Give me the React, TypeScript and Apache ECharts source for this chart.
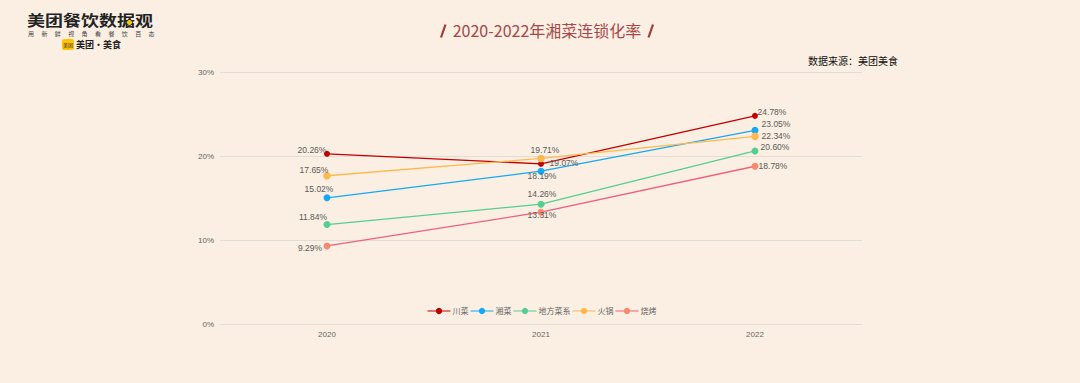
import React, { useEffect, useRef } from "react";
import * as echarts from "echarts";

const years = ["2020", "2021", "2022"];
const names = ["川菜", "湘菜", "地方菜系", "火锅", "烧烤"];
const sichuan = [20.26, 19.07, 24.78];
const hunan = [15.02, 18.19, 23.05];
const local = [11.84, 14.26, 20.6];
const hotpot = [17.65, 19.71, 22.34];
const bbq = [9.29, 13.31, 18.78];
const seriesValues = [sichuan, hunan, local, hotpot, bbq];

const lineColors = ["#c00000", "#14a9f5", "#55cf91", "#ffb84d", "#f0607a"];
const markerColors = ["#c00000", "#14a9f5", "#55cf91", "#ffb84d", "#f58a70"];
const markerSizes = [6, 7, 7, 7.5, 7];
const labelOffsets = [
  [[-15, 8], [23, 11], [17, 8]],
  [[-8, 4], [1, 18], [21, 6]],
  [[-14, 5], [1, 3], [20, 9]],
  [[-13, 7], [4, 5], [21, 13]],
  [[-17, 15], [1, 16], [18, 13]],
];

const FONT_CJK = '"Noto Sans CJK SC", "Noto Sans", sans-serif';
const FONT_LABEL = '"Liberation Sans", "Noto Sans CJK SC", sans-serif';
const BG = "#faefe2";
const slogan = "用新鲜视角看餐饮百态";

export default function App() {
  const ref = useRef<HTMLDivElement>(null);
  useEffect(() => {
    document.body.style.margin = "0";
    document.body.style.background = BG;
    const chart = echarts.init(ref.current!, undefined, { renderer: "svg" });
    chart.setOption({
      animation: false,
      backgroundColor: BG,
      grid: { left: 220, right: 218, top: 72, bottom: 59 },
      legend: {
        left: 422,
        top: 302,
        itemGap: 1.5,
        itemWidth: 23,
        itemHeight: 8,
        data: names,
        lineStyle: { width: 1 },
        textStyle: {
          fontSize: 8,
          color: "#666",
          fontFamily: FONT_CJK,
          padding: [0, 0, 0, -3],
        },
      },
      xAxis: {
        type: "category",
        data: years,
        axisLine: { lineStyle: { color: "#e0dcd6" } },
        axisTick: { show: false },
        axisLabel: { fontSize: 8, color: "#666", margin: 6, fontFamily: FONT_LABEL },
      },
      yAxis: {
        type: "value",
        min: 0,
        max: 30,
        interval: 10,
        axisLine: { show: false },
        axisTick: { show: false },
        axisLabel: { fontSize: 8, color: "#666", margin: 6, formatter: "{value}%", fontFamily: FONT_LABEL },
        splitLine: { lineStyle: { color: "#e0dcd6", width: 1 } },
      },
      series: names.map((name, i) => ({
        name,
        type: "line",
        symbol: "circle",
        symbolSize: markerSizes[i],
        itemStyle: { color: markerColors[i] },
        lineStyle: { color: lineColors[i], width: 1.3 },
        data: seriesValues[i].map((value, j) => ({
          value,
          label: {
            show: true,
            position: "top",
            offset: labelOffsets[i][j],
            formatter: value.toFixed(2) + "%",
            fontSize: 8.5,
            color: "#5a5a5a",
            fontFamily: FONT_LABEL,
          },
        })),
      })),
      graphic: [
        { type: "text", x: 547, y: 30, style: { text: "2020-2022年湘菜连锁化率", fontSize: 16, fontFamily: FONT_CJK, fill: "#a5484a", align: "center", verticalAlign: "middle" } },
        { type: "line", shape: { x1: 441, y1: 37.5, x2: 445.5, y2: 24.5 }, style: { stroke: "#a23b3b", lineWidth: 2.2 } },
        { type: "line", shape: { x1: 648.5, y1: 37.5, x2: 653, y2: 24.5 }, style: { stroke: "#a23b3b", lineWidth: 2.2 } },
        { type: "text", x: 898, y: 60, style: { text: "数据来源：美团美食", fontSize: 10, fontFamily: FONT_CJK, fill: "#111", align: "right", verticalAlign: "middle" } },
        { type: "text", x: 27, y: 19.5, scaleY: 0.8, style: { text: "美团餐饮数据观", fontSize: 18, lineHeight: 18, fontWeight: "bold", fontFamily: FONT_CJK, fill: "#222", align: "left", verticalAlign: "middle" } },
        { type: "circle", shape: { cx: 129.5, cy: 22.5, r: 3 }, style: { fill: "#f5c518", stroke: "#222", lineWidth: 1 } },
        ...slogan.split("").map((ch, i) => ({
          type: "text",
          x: 31 + i * 13.4,
          y: 33.5,
          style: { text: ch, fontSize: 6, lineHeight: 6, fontFamily: FONT_CJK, fill: "#444", align: "center", verticalAlign: "middle" },
        })),
        { type: "rect", shape: { x: 62, y: 39, width: 12, height: 11, r: 2 }, style: { fill: "#ffc300" } },
        { type: "text", x: 68, y: 44.5, style: { text: "美团", fontSize: 5, fontFamily: FONT_CJK, fill: "#222", align: "center", verticalAlign: "middle" } },
        { type: "text", x: 76, y: 44.5, style: { text: "美团·美食", fontSize: 9, fontWeight: "bold", fontFamily: FONT_CJK, fill: "#222", align: "left", verticalAlign: "middle" } },
      ],
    });
    return () => chart.dispose();
  }, []);
  return <div ref={ref} style={{ width: 1080, height: 383 }} />;
}
